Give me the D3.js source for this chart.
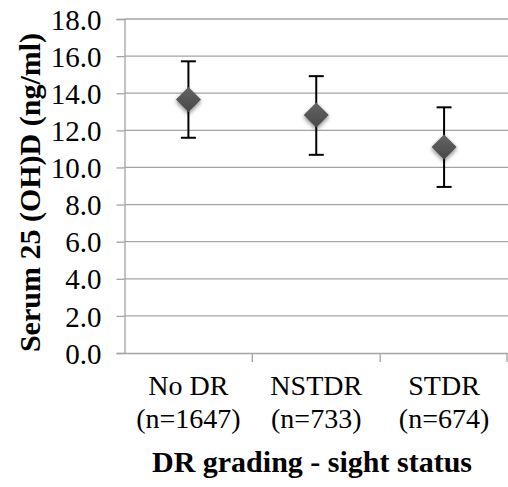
<!DOCTYPE html>
<html>
<head>
<meta charset="utf-8">
<script src="https://cdn.jsdelivr.net/npm/d3@7"></script>
<style>
  body { margin: 0; background: #fff; }
</style>
</head>
<body>
<script>
var width = 508,
    height = 487;

var serif = "'Liberation Serif', 'Times New Roman', Times, 'DejaVu Serif', serif";

// data
var groups = ['No DR', 'NSTDR', 'STDR'];
var groupN = ['(n=1647)', '(n=733)', '(n=674)'];
var means = [13.66, 12.82, 11.1];
var errUp = [2.06, 2.1, 2.14];
var errDown = [2.06, 2.14, 2.15];
var yTicks = [0, 2, 4, 6, 8, 10, 12, 14, 16, 18];

var margin = {top: 19, right: 0, bottom: 134, left: 124.5};

var svg = d3.select('body')
    .append('svg')
    .attr('width', width)
    .attr('height', height)
    .style('font-family', serif);

var defs = svg.append('defs');
var shadow = defs.append('filter')
    .attr('id', 'shadow')
    .attr('x', '-50%').attr('y', '-50%')
    .attr('width', '200%').attr('height', '200%');
shadow.append('feGaussianBlur')
    .attr('in', 'SourceAlpha')
    .attr('stdDeviation', 2);
shadow.append('feOffset')
    .attr('dx', 0).attr('dy', 2)
    .attr('result', 'blur');
shadow.append('feComponentTransfer')
    .append('feFuncA').attr('type', 'linear').attr('slope', 0.5);
var merge = shadow.append('feMerge');
merge.append('feMergeNode');
merge.append('feMergeNode').attr('in', 'SourceGraphic');

var grad = defs.append('linearGradient')
    .attr('id', 'diamondFill')
    .attr('x1', 0).attr('y1', 0).attr('x2', 0).attr('y2', 1);
grad.append('stop').attr('offset', '0%').attr('stop-color', '#646464');
grad.append('stop').attr('offset', '100%').attr('stop-color', '#484848');

var x = d3.scaleBand()
    .domain(groups)
    .range([margin.left, width])
    .padding(0);

var y = d3.scaleLinear()
    .domain([0, 18])
    .range([height - margin.bottom, margin.top]);

// gridlines
svg.append('g')
    .selectAll('line')
    .data(yTicks.slice(1))
    .enter()
    .append('line')
    .attr('x1', margin.left)
    .attr('x2', width)
    .attr('y1', function(d) { return y(d); })
    .attr('y2', function(d) { return y(d); })
    .attr('stroke', '#a3a3a3')
    .attr('stroke-width', 1.3);

// y axis
var yAxis = svg.append('g')
    .attr('transform', 'translate(' + margin.left + ',0)')
    .call(d3.axisLeft(y)
        .tickValues(yTicks)
        .tickSize(8)
        .tickPadding(15)
        .tickFormat(d3.format('.1f')));
yAxis.attr('font-family', serif);
yAxis.select('.domain').attr('stroke', '#a3a3a3').attr('stroke-width', 1.3);
yAxis.selectAll('.tick line').attr('stroke', '#a3a3a3').attr('stroke-width', 1.3);
yAxis.selectAll('.tick text')
    .attr('font-size', 29)
    .style('font-family', serif)
    .attr('fill', '#000')
    .attr('dy', '0.35em');

// x axis
var xAxis = svg.append('g')
    .attr('transform', 'translate(0,' + y(0) + ')')
    .call(d3.axisBottom(x).tickSize(0).tickFormat(''));
xAxis.select('.domain').attr('stroke', '#a3a3a3').attr('stroke-width', 1.3);

// category separators
var bounds = groups.map(function(g) { return x(g) + x.bandwidth(); });
svg.append('g')
    .selectAll('line')
    .data(bounds)
    .enter()
    .append('line')
    .attr('x1', function(d) { return Math.min(d, width - 1); })
    .attr('x2', function(d) { return Math.min(d, width - 1); })
    .attr('y1', y(0))
    .attr('y2', y(0) + 9)
    .attr('stroke', '#a3a3a3')
    .attr('stroke-width', 1.3);

// category labels
var labels = svg.append('g')
    .selectAll('text')
    .data(groups)
    .enter()
    .append('text')
    .attr('text-anchor', 'middle')
    .attr('font-size', 28)
    .style('font-family', serif)
    .attr('x', function(d) { return x(d) + x.bandwidth() / 2; })
    .attr('y', 395);
labels.append('tspan')
    .attr('x', function(d) { return x(d) + x.bandwidth() / 2; })
    .text(function(d) { return d; });
labels.append('tspan')
    .attr('x', function(d) { return x(d) + x.bandwidth() / 2; })
    .attr('dy', 33)
    .text(function(d, i) { return groupN[i]; });

// error bars
var cx = function(i) { return x(groups[i]) + x.bandwidth() / 2; };
var bars = svg.append('g')
    .selectAll('g')
    .data(means)
    .enter()
    .append('g')
    .attr('stroke', '#000')
    .attr('stroke-width', 2);
bars.append('line')
    .attr('x1', function(d, i) { return cx(i); })
    .attr('x2', function(d, i) { return cx(i); })
    .attr('y1', function(d, i) { return y(d + errUp[i]); })
    .attr('y2', function(d, i) { return y(d - errDown[i]); });
bars.append('line')
    .attr('x1', function(d, i) { return cx(i) - 7.5; })
    .attr('x2', function(d, i) { return cx(i) + 7.5; })
    .attr('y1', function(d, i) { return y(d + errUp[i]); })
    .attr('y2', function(d, i) { return y(d + errUp[i]); });
bars.append('line')
    .attr('x1', function(d, i) { return cx(i) - 7.5; })
    .attr('x2', function(d, i) { return cx(i) + 7.5; })
    .attr('y1', function(d, i) { return y(d - errDown[i]); })
    .attr('y2', function(d, i) { return y(d - errDown[i]); });

// diamond markers
svg.append('g')
    .selectAll('path')
    .data(means)
    .enter()
    .append('path')
    .attr('d', 'M0,-12.5L12.5,0L0,12.5L-12.5,0Z')
    .attr('transform', function(d, i) { return 'translate(' + cx(i) + ',' + y(d) + ')'; })
    .attr('fill', 'url(#diamondFill)')
    .attr('filter', 'url(#shadow)');

// axis titles
svg.append('text')
    .attr('text-anchor', 'middle')
    .attr('font-size', 30)
    .attr('font-weight', 'bold')
    .style('font-family', serif)
    .attr('x', 312)
    .attr('y', 472)
    .text('DR grading - sight status');

svg.append('text')
    .attr('text-anchor', 'middle')
    .attr('font-size', 30)
    .attr('font-weight', 'bold')
    .style('font-family', serif)
    .attr('transform', 'translate(40,192.5) rotate(-90)')
    .text('Serum 25 (OH)D (ng/ml)');
</script>
</body>
</html>
